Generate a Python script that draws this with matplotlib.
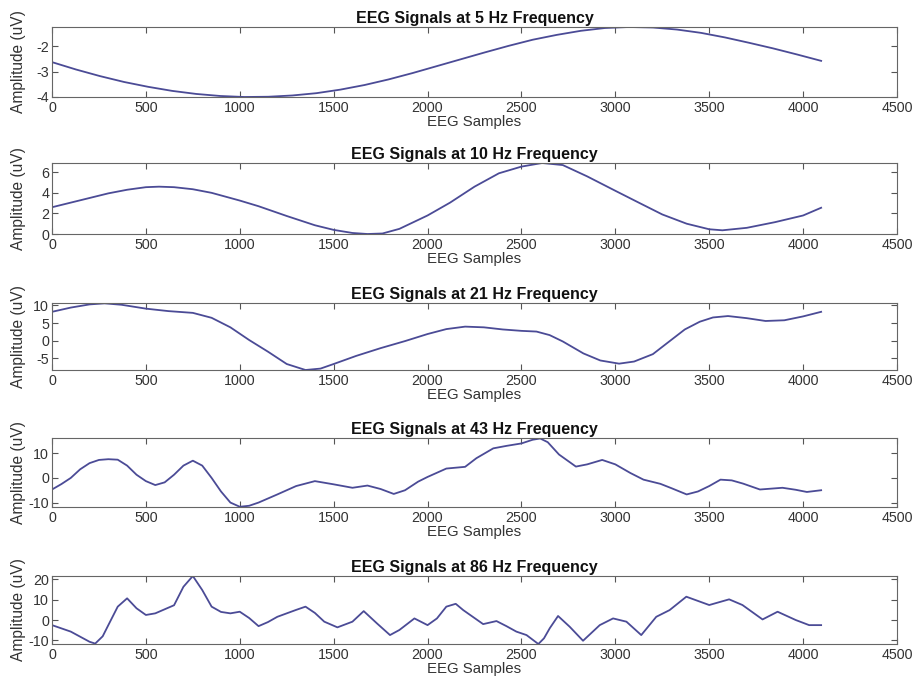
import matplotlib
matplotlib.use("Agg")
import matplotlib.pyplot as plt

plt.rcParams['font.family'] = ['Liberation Sans', 'DejaVu Sans']
plt.rcParams['axes.unicode_minus'] = False

titles = ["EEG Signals at 5 Hz Frequency", "EEG Signals at 10 Hz Frequency",
          "EEG Signals at 21 Hz Frequency", "EEG Signals at 43 Hz Frequency",
          "EEG Signals at 86 Hz Frequency"]

x5 = [0, 128, 256, 384, 512, 640, 768, 896, 1024, 1152, 1280, 1408, 1536, 1664, 1792, 1920,
      2048, 2176, 2304, 2432, 2560, 2688, 2816, 2944, 3072, 3200, 3328, 3456, 3584, 3712,
      3840, 3968, 4096]
y5 = [-2.63, -2.92, -3.18, -3.41, -3.60, -3.76, -3.88, -3.96, -4.0, -3.99, -3.94, -3.85,
      -3.71, -3.53, -3.31, -3.06, -2.79, -2.52, -2.25, -1.99, -1.75, -1.56, -1.40, -1.29,
      -1.25, -1.27, -1.35, -1.48, -1.66, -1.87, -2.09, -2.33, -2.58]

x10 = [0, 100, 200, 300, 400, 500, 570, 650, 750, 850, 1000, 1100, 1250, 1400, 1500, 1600,
       1680, 1760, 1850, 2000, 2120, 2250, 2380, 2500, 2610, 2720, 2850, 3000, 3130, 3250,
       3380, 3500, 3570, 3700, 3850, 4000, 4096]
y10 = [2.6, 3.05, 3.5, 3.95, 4.3, 4.55, 4.6, 4.55, 4.35, 4.0, 3.25, 2.7, 1.75, 0.85, 0.4, 0.1,
       0.0, 0.05, 0.5, 1.8, 3.05, 4.6, 5.9, 6.55, 6.9, 6.7, 5.6, 4.2, 3.0, 1.9,
       1.0, 0.46, 0.36, 0.6, 1.15, 1.8, 2.55]

x21 = [0, 100, 200, 280, 370, 500, 620, 750, 850, 950, 1050, 1150, 1250, 1350, 1430, 1500,
       1620, 1750, 1880, 2000, 2100, 2200, 2300, 2400, 2500, 2580, 2650, 2720, 2830, 2920,
       3020, 3100, 3200, 3280, 3370, 3450, 3520, 3600, 3700, 3800, 3900, 4000, 4096]
y21 = [8.2, 9.4, 10.3, 10.6, 10.2, 9.1, 8.4, 7.9, 6.5, 3.8, 0.2, -3.1, -6.6, -8.3, -7.9, -6.6,
       -4.3, -2.1, -0.1, 1.9, 3.3, 4.0, 3.8, 3.2, 2.8, 2.6, 1.6, -0.2, -3.6, -5.6,
       -6.5, -5.9, -3.8, -0.5, 3.2, 5.4, 6.6, 7.0, 6.4, 5.6, 5.8, 6.9, 8.2]

x43 = [0, 50, 100, 150, 200, 250, 300, 350, 400, 450, 500, 550, 600, 650, 700, 750, 800, 850,
       900, 950, 1000, 1050, 1100, 1200, 1300, 1400, 1500, 1600, 1680, 1750, 1820, 1880, 1950,
       2000, 2100, 2200, 2260, 2350, 2420, 2500, 2560, 2600, 2640, 2700, 2790, 2850, 2930,
       3000, 3080, 3150, 3240, 3300, 3380, 3440, 3500, 3560, 3620, 3680, 3770, 3890, 3960,
       4020, 4096]
y43 = [-4.7, -2.5, 0.0, 3.5, 6.0, 7.3, 7.6, 7.4, 5.0, 1.3, -1.3, -2.9, -1.8, 1.3, 5.0, 7.0, 5.0, 0.0,
       -5.5, -10.0, -11.7, -11.3, -10.0, -6.7, -3.3, -1.3, -2.6, -4.0, -3.1, -4.5, -6.5, -5.0, -1.5,
       0.4, 3.8, 4.5, 8.0, 12.0, 13.0, 14.0, 15.5, 16.0, 14.5, 9.5, 4.6, 5.5, 7.3,
       5.5, 2.0, -0.7, -2.4, -4.2, -6.7, -5.5, -3.3, -0.7, -1.0, -2.3, -4.7, -4.0, -4.8,
       -5.7, -5.0]

x86 = [0, 100, 200, 230, 270, 300, 350, 400, 450, 500, 550, 600, 650, 700, 750, 800, 850, 900,
       950, 1000, 1050, 1100, 1150, 1200, 1250, 1300, 1350, 1400, 1450, 1520, 1600, 1660, 1730,
       1800, 1850, 1930, 2000, 2050, 2100, 2150, 2190, 2250, 2296, 2367, 2420, 2473, 2527, 2590,
       2620, 2651, 2695, 2757, 2828, 2917, 2988, 3059, 3138, 3218, 3289, 3378, 3500, 3606,
       3677, 3784, 3864, 3961, 4032, 4096]
y86 = [-2.5, -5.7, -10.7, -11.6, -8.0, -2.5, 6.6, 10.7, 5.8, 2.5, 3.3, 5.3, 7.3, 16.4, 21.7, 14.8, 6.6, 4.0,
       3.3, 4.1, 1.0, -3.0, -1.0, 1.6, 3.3, 5.0, 6.6, 3.5, -0.8, -3.6, -0.8, 4.4, -1.6,
       -7.4, -4.9, 0.8, -2.5, 0.8, 6.6, 8.0, 4.9, 1.0, -2.0, -0.5, -3.0, -5.7, -7.4, -11.8,
       -9.0, -4.0, 2.0, -3.3, -10.2, -2.5, 0.8, -0.8, -7.4, 1.6, 4.9, 11.5, 7.4, 10.2,
       7.4, 0.3, 4.1, 0.0, -2.5, -2.5]

xs = [x5, x10, x21, x43, x86]
ys = [y5, y10, y21, y43, y86]
ylims = [(-4.0, -1.25), (0.0, 6.9), (-8.3, 10.7), (-11.8, 16.2), (-11.8, 21.7)]
yticks = [[-4, -3, -2], [0, 2, 4, 6], [-5, 0, 5, 10], [-10, 0, 10], [-10, 0, 10, 20]]
xticks = [0, 500, 1000, 1500, 2000, 2500, 3000, 3500, 4000, 4500]

W, H = 915, 690
fig = plt.figure(figsize=(W / 100, H / 100), dpi=100)
tops = [27, 163, 303, 438, 576]
bots = [97, 234, 370, 507, 644]
left, right = 52, 897

for i in range(5):
    ax = fig.add_axes([left / W, 1 - bots[i] / H, (right - left) / W, (bots[i] - tops[i]) / H])
    ax.plot(xs[i], ys[i], color='#4b4b96', lw=1.3)
    ax.set_xlim(0, 4500)
    ax.set_ylim(*ylims[i])
    ax.set_xticks(xticks)
    ax.set_yticks(yticks[i])
    ax.tick_params(direction='in', top=True, right=True, length=4, width=0.8,
                   colors='#555555', labelcolor='#333333', labelsize=10.3, pad=3)
    ax.tick_params(axis='y', pad=2)
    for s in ax.spines.values():
        s.set_color('#666666')
        s.set_linewidth(0.8)
    ax.set_title(titles[i], fontsize=11.5, fontweight='bold', pad=3, color='#111111')
    ax.set_xlabel("EEG Samples", fontsize=10.8, color='#333333', labelpad=0)
    ax.set_ylabel("Amplitude (uV)", fontsize=11.2, color='#333333')
    ax.yaxis.set_label_coords(-0.031, 0.5)

fig.savefig("out.png", dpi=100)
